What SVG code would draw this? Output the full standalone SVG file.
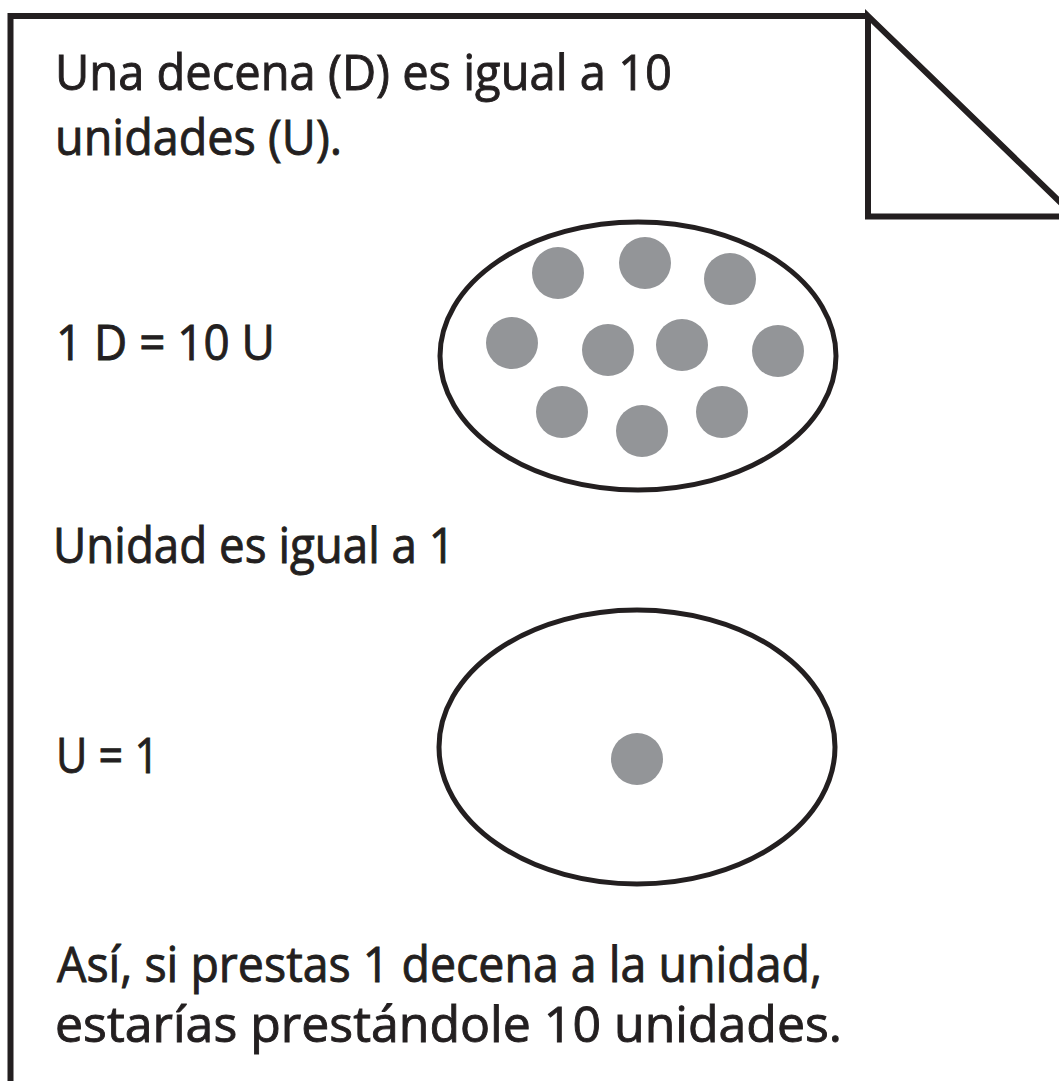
<svg xmlns="http://www.w3.org/2000/svg" width="1059" height="1081" viewBox="0 0 1059 1081">
<style>
.ln{fill:none;stroke:#231f20;stroke-width:6;stroke-linejoin:miter}
.el{fill:#fff;stroke:#231f20;stroke-width:5}
.dot{fill:#939598}
.t{font-family:"Open Sans","DejaVu Sans",sans-serif;font-size:49px;fill:#231f20;stroke:#231f20;stroke-width:0.9}
</style>
<rect width="1059" height="1081" fill="#fff"/>
<g id="page">
<path class="ln" d="M10.5 1081 L10.5 16 L868 16"/>
<path class="ln" d="M868 16 L868 216.5 L1075 216.5 Z"/>
</g>
<g id="text-top">
<text class="t" x="55" y="90" textLength="617" lengthAdjust="spacingAndGlyphs">Una decena (D) es igual a 10</text>
<text class="t" x="55" y="155" textLength="287" lengthAdjust="spacingAndGlyphs">unidades (U).</text>
</g>
<g id="decena">
<text class="t" x="56" y="360" textLength="219" lengthAdjust="spacingAndGlyphs">1 D = 10 U</text>
<ellipse class="el" cx="638" cy="356" rx="198" ry="134"/>
<circle class="dot" cx="558" cy="273" r="26"/>
<circle class="dot" cx="645" cy="263" r="26"/>
<circle class="dot" cx="730" cy="279" r="26"/>
<circle class="dot" cx="512" cy="343" r="26"/>
<circle class="dot" cx="608" cy="350" r="26"/>
<circle class="dot" cx="682" cy="345" r="26"/>
<circle class="dot" cx="778" cy="351" r="26"/>
<circle class="dot" cx="562" cy="412" r="26"/>
<circle class="dot" cx="642" cy="431" r="26"/>
<circle class="dot" cx="722" cy="412" r="26"/>
</g>
<g id="unidad">
<text class="t" x="53" y="563" textLength="402" lengthAdjust="spacingAndGlyphs">Unidad es igual a 1</text>
<text class="t" x="56" y="773" textLength="103" lengthAdjust="spacingAndGlyphs">U = 1</text>
<ellipse class="el" cx="637" cy="747" rx="198" ry="137"/>
<circle class="dot" cx="637" cy="759" r="26"/>
</g>
<g id="text-bottom">
<text class="t" x="57" y="982" textLength="765" lengthAdjust="spacingAndGlyphs">Así, si prestas 1 decena a la unidad,</text>
<text class="t" x="55" y="1042" textLength="787" lengthAdjust="spacingAndGlyphs">estarías prestándole 10 unidades.</text>
</g>
</svg>
